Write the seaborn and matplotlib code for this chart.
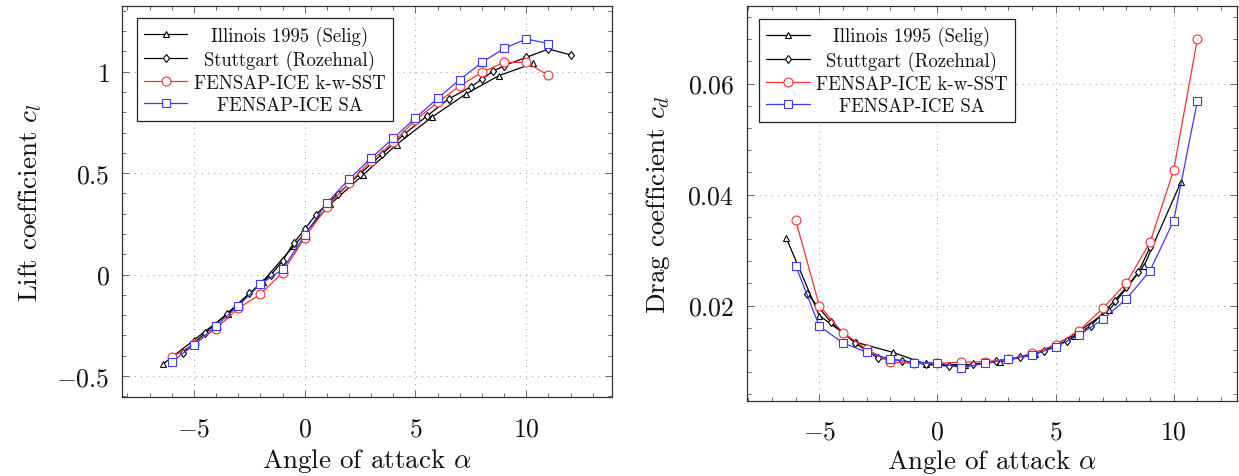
import matplotlib
matplotlib.use("Agg")
import matplotlib.pyplot as plt
import seaborn as sns
from matplotlib.ticker import FixedLocator, MultipleLocator, FuncFormatter

# ---------------- data ----------------
illinois_alpha = [-6.4, -5.0, -3.45, -1.9, -0.5, 1.15, 2.65, 4.15, 5.73, 7.27, 8.75, 10.3]
illinois_cl = [-0.442, -0.323, -0.192, -0.035, 0.14, 0.346, 0.493, 0.641, 0.775, 0.890, 0.980, 1.041]
illinois_cd = [0.0322, 0.0182, 0.0134, 0.0116, 0.0095, 0.0093, 0.0099, 0.0112, 0.0146, 0.0192, 0.0272, 0.0422]

stuttgart_alpha_cl = [-5.5, -4.5, -3.5, -2.5, -1.5, -1.0, -0.5, 0.0, 0.5, 1.5, 2.5, 3.5,
                      4.5, 5.5, 6.5, 7.5, 8.0, 8.5, 9.0, 10.0, 11.0, 12.0]
stuttgart_cl = [-0.385, -0.290, -0.192, -0.093, 0.0, 0.067, 0.155, 0.223, 0.295, 0.398, 0.497, 0.595,
                0.693, 0.780, 0.866, 0.925, 0.964, 1.002, 1.030, 1.071, 1.112, 1.083]
stuttgart_alpha_cd = [-5.5, -4.5, -3.5, -2.5, -1.5, -0.5, 0.5, 1.5, 2.5, 3.5, 4.5, 5.5,
                      6.5, 7.5, 8.0, 8.5, 9.0]
stuttgart_cd = [0.0221, 0.0170, 0.0133, 0.0105, 0.0101, 0.0094, 0.0091, 0.0094, 0.0100, 0.0107, 0.0118, 0.0137,
                0.0164, 0.0209, 0.0233, 0.0260, 0.0305]

fensap_alpha = [-6, -5, -4, -3, -2, -1, 0, 1, 2, 3, 4, 5, 6, 7, 8, 9, 10, 11]
sst_cl = [-0.408, -0.342, -0.266, -0.167, -0.097, 0.010, 0.182, 0.333, 0.450, 0.562, 0.652, 0.762,
          0.849, 0.930, 0.997, 1.046, 1.046, 0.982]
sa_cl = [-0.430, -0.348, -0.254, -0.154, -0.048, 0.025, 0.193, 0.354, 0.469, 0.575, 0.672, 0.772,
         0.869, 0.961, 1.046, 1.115, 1.161, 1.139]
sst_cd = [0.0354, 0.0200, 0.0151, 0.0122, 0.0098, 0.0096, 0.0096, 0.0098, 0.0099, 0.0103, 0.0114, 0.0129,
          0.0155, 0.0195, 0.0241, 0.0314, 0.0444, 0.0680]
sa_cd = [0.0272, 0.0163, 0.0133, 0.0116, 0.0104, 0.0097, 0.0097, 0.0088, 0.0096, 0.0103, 0.0111, 0.0125,
         0.0147, 0.0175, 0.0212, 0.0263, 0.0353, 0.0568]

series_labels = ["Illinois 1995 (Selig)", "Stuttgart (Rozehnal)", "FENSAP-ICE k-w-SST", "FENSAP-ICE SA"]

x_major = [-5, 0, 5, 10]
cl_major = [-0.5, 0, 0.5, 1]
cd_major = [0.02, 0.04, 0.06]

# ---------------- style ----------------
sns.set_theme(style="white")
plt.rcParams["font.family"] = ["cmr10", "DejaVu Serif"]
plt.rcParams["mathtext.fontset"] = "cm"
plt.rcParams["axes.formatter.use_mathtext"] = True
plt.rcParams["axes.unicode_minus"] = True

RED = "#ff3030"
BLUE = "#3a3aff"
LW = 0.9

fig = plt.figure(figsize=(12.39, 4.77), dpi=100)
ax1 = fig.add_axes([0.0985, 0.165, 0.3955, 0.8195])
ax2 = fig.add_axes([0.6027, 0.158, 0.3955, 0.8265])


def draw(ax, ill_y, st_x, st_y, sst_y, sa_y):
    common = dict(ax=ax, linewidth=LW, markerfacecolor="white", markeredgewidth=0.8,
                  sort=False, errorbar=None)
    sns.lineplot(x=illinois_alpha, y=ill_y, color="black", marker="^", markersize=4.2,
                 markeredgecolor="black", label=series_labels[0], **common)
    sns.lineplot(x=st_x, y=st_y, color="black", marker="d", markersize=4.4,
                 markeredgecolor="black", label=series_labels[1], **common)
    sns.lineplot(x=fensap_alpha, y=sst_y, color=RED, marker="o", markersize=6.4,
                 markeredgecolor=RED, label=series_labels[2], **common)
    sns.lineplot(x=fensap_alpha, y=sa_y, color=BLUE, marker="s", markersize=6.0,
                 markeredgecolor=BLUE, label=series_labels[3], **common)


draw(ax1, illinois_cl, stuttgart_alpha_cl, stuttgart_cl, sst_cl, sa_cl)
draw(ax2, illinois_cd, stuttgart_alpha_cd, stuttgart_cd, sst_cd, sa_cd)

fmt = FuncFormatter(lambda v, p: f"${v:g}$")

for ax, ymaj, ymin_step, xl, yl in [
    (ax1, cl_major, 0.1, (-8.24, 13.87), (-0.605, 1.322)),
    (ax2, cd_major, 0.004, (-8.07, 12.67), (0.00288, 0.0739)),
]:
    ax.set_xlim(*xl)
    ax.set_ylim(*yl)
    ax.xaxis.set_major_locator(FixedLocator(x_major))
    ax.xaxis.set_minor_locator(MultipleLocator(1))
    ax.yaxis.set_major_locator(FixedLocator(ymaj))
    ax.yaxis.set_minor_locator(MultipleLocator(ymin_step))
    ax.xaxis.set_major_formatter(fmt)
    ax.yaxis.set_major_formatter(fmt)
    ax.tick_params(which="both", direction="in", top=True, right=True, bottom=True, left=True,
                   color="#555555", width=0.6)
    ax.tick_params(which="major", length=5.0)
    ax.tick_params(which="minor", length=3.2)
    ax.tick_params(axis="x", which="major", pad=14, labelsize=18.5, labelcolor="#111111")
    ax.tick_params(axis="y", which="major", pad=9, labelsize=18.5, labelcolor="#111111")
    ax.grid(True, which="major", color="#a8a8a8", linestyle=(0, (1, 4.5)), linewidth=0.8)
    for s in ax.spines.values():
        s.set_color("#333333")
        s.set_linewidth(0.9)
        s.set_visible(True)
    ax.set_xlabel(r"Angle of attack $\alpha$", fontsize=19.5, color="#111111", va="baseline")

ax1.set_ylabel(r"Lift coefficient $c_l$", fontsize=19.5, color="#111111", va="center")
ax2.set_ylabel(r"Drag coefficient $c_d$", fontsize=19.5, color="#111111", va="center")
ax1.yaxis.set_label_coords(-0.188, 0.5)
ax2.yaxis.set_label_coords(-0.181, 0.5)
ax1.xaxis.set_label_coords(0.5, -0.178)
ax2.xaxis.set_label_coords(0.5, -0.172)

legends = []
for ax, anchor in [(ax1, (0.0306, 0.9693)), (ax2, (0.0257, 0.968))]:
    leg = ax.legend(loc="upper left", bbox_to_anchor=anchor, borderaxespad=0,
                    fontsize=13.5, frameon=True, fancybox=False, framealpha=1,
                    edgecolor="#222222", handlelength=2.3, handletextpad=0.35,
                    labelspacing=0.22, borderpad=0.38)
    leg.get_frame().set_linewidth(0.9)
    for t in leg.get_texts():
        t.set_color("#111111")
    legends.append(leg)

# centre the legend texts in their column (as in the reference)
fig.canvas.draw()
renderer = fig.canvas.get_renderer()
for leg in legends:
    col = leg._legend_handle_box.get_children()[0]
    items = col.get_children()
    widths = [t.get_window_extent(renderer).width for t in leg.get_texts()]
    maxw = max(widths)
    base = leg.handletextpad * leg._fontsize
    for it, w in zip(items, widths):
        it.sep = base + (maxw - w) / 2 * 72.0 / fig.dpi

fig.savefig("out.png", dpi=100)
